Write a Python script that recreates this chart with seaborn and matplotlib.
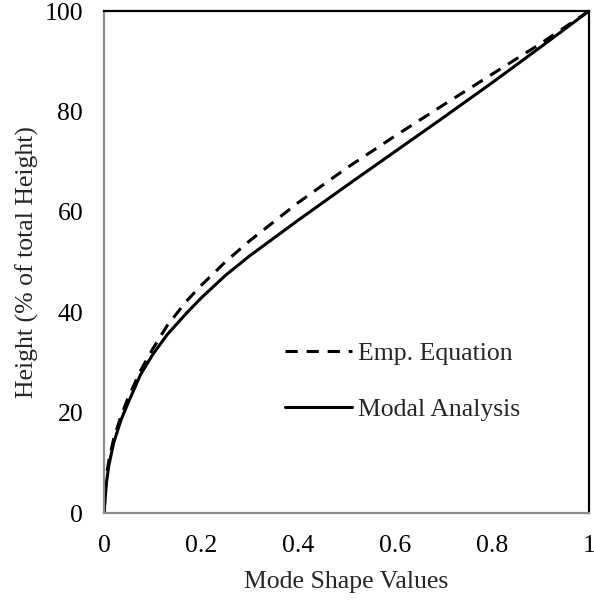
import matplotlib
matplotlib.use("Agg")
import matplotlib.pyplot as plt
import seaborn as sns
import pandas as pd

# Data
modal_x = [0.0, 0.005, 0.01, 0.02, 0.035, 0.05, 0.075, 0.1, 0.13, 0.17, 0.2, 0.25, 0.3, 0.4, 0.5, 0.6, 0.7, 0.8, 0.9, 1.0]
modal_y = [0.0, 6.0, 9.5, 14.0, 18.5, 22.0, 27.5, 31.5, 35.5, 39.8, 42.8, 47.3, 51.2, 58.3, 65.2, 72.0, 78.8, 85.7, 92.8, 100.0]

emp_x = [0.0, 0.005, 0.01, 0.02, 0.035, 0.05, 0.075, 0.1, 0.13, 0.17, 0.2, 0.25, 0.3, 0.4, 0.5, 0.6, 0.7, 0.8, 0.9, 1.0]
emp_y = [0.0, 7.5, 10.5, 14.8, 19.3, 23.0, 28.3, 32.6, 37.3, 42.2, 45.3, 50.0, 54.2, 61.8, 68.7, 75.1, 81.3, 87.4, 93.5, 100.0]

series_names = ["Emp. Equation", "Modal Analysis"]
x_ticks = [0, 0.2, 0.4, 0.6, 0.8, 1]
x_tick_labels = ["0", "0.2", "0.4", "0.6", "0.8", "1"]
y_ticks = [0, 20, 40, 60, 80, 100]

df = pd.concat([
    pd.DataFrame({"x": emp_x, "y": emp_y, "series": series_names[0]}),
    pd.DataFrame({"x": modal_x, "y": modal_y, "series": series_names[1]}),
], ignore_index=True)

sns.set_theme(style="white")
plt.rcParams["font.family"] = ["Liberation Serif", "DejaVu Serif"]

FS = 18.5
fig = plt.figure(figsize=(5.94, 6.03), dpi=100)
ax = fig.add_axes([104 / 594, 1 - 513 / 603, (589 - 104) / 594, (513 - 11) / 603])

sns.lineplot(
    data=df, x="x", y="y", hue="series", style="series",
    hue_order=series_names, style_order=series_names,
    palette={series_names[0]: "black", series_names[1]: "black"},
    dashes={series_names[0]: (4.0, 2.9), series_names[1]: ""},
    linewidth=2.2, ax=ax, sort=False, estimator=None,
)

ax.set_xlim(0, 1)
ax.set_ylim(0, 100)
ax.set_xticks(x_ticks)
ax.set_xticklabels(x_tick_labels)
ax.set_yticks(y_ticks)
ax.tick_params(axis="both", labelsize=FS, length=0, colors="black")
ax.tick_params(axis="y", pad=15)
ax.tick_params(axis="x", pad=16)
ax.set_xlabel("Mode Shape Values", fontsize=FS, labelpad=10)
ax.set_ylabel("Height (% of total Height)", fontsize=FS, labelpad=4)

for side in ["left", "bottom"]:
    ax.spines[side].set_color("#8c8c8c")
    ax.spines[side].set_linewidth(1.6)
for side in ["top", "right"]:
    ax.spines[side].set_color("black")
    ax.spines[side].set_linewidth(1.6)

leg = ax.legend(
    loc="center left", bbox_to_anchor=(0.373, 0.262), frameon=False,
    fontsize=FS, handlelength=2.6, handletextpad=0.25, labelspacing=1.3,
    borderpad=0, borderaxespad=0,
)
for line in leg.get_lines():
    line.set_linewidth(2.2)

fig.savefig("out.png", dpi=100)
